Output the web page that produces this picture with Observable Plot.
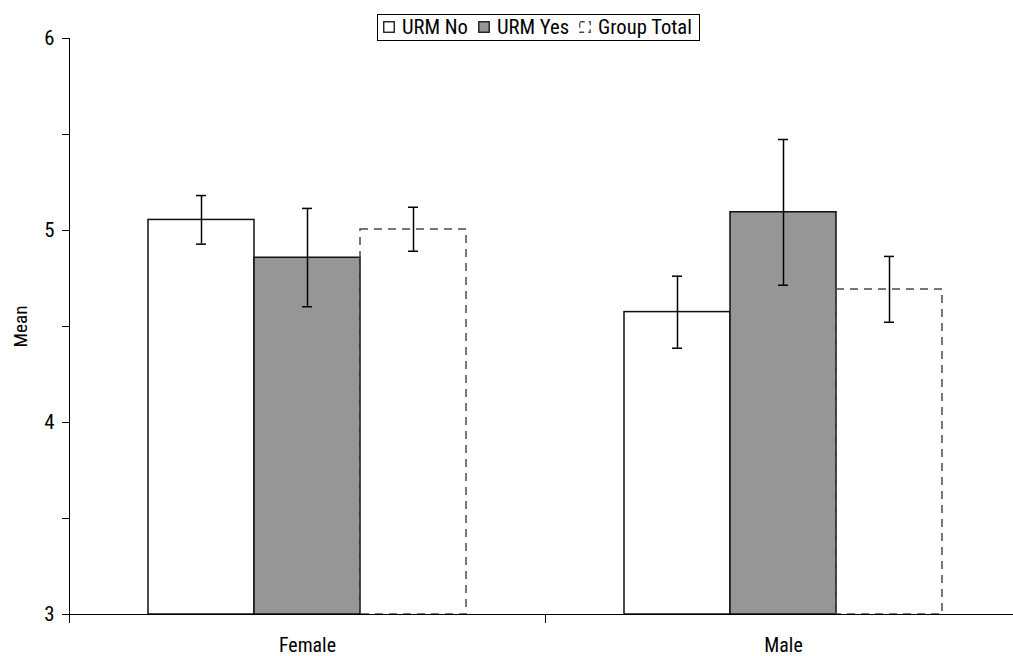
<!DOCTYPE html>
<html>
<head>
<meta charset="utf-8">
<script src="https://cdn.jsdelivr.net/npm/d3@7"></script>
<script src="https://cdn.jsdelivr.net/npm/@observablehq/plot@0.6"></script>
<style>
  html, body { margin: 0; padding: 0; background: #fff; }
  #wrap { position: relative; width: 1013px; height: 656px; overflow: hidden; }
  #legend { position: absolute; left: 377px; top: 14px; height: 25px; padding: 0 7px 0 5px;
            border: 1px solid #000; background: #fff; display: flex; align-items: center;
            color: #000; white-space: nowrap; line-height: 1; }
  #legend .item { display: flex; align-items: center; margin-right: 10px; }
  #legend .item:last-child { margin-right: 0; }
  #legend svg { margin-right: 7px; }
</style>
</head>
<body>
<div id="wrap"><div id="legend"></div></div>
<script>
const groups = ["Female", "Male"];
const series = ["URM No", "URM Yes", "Group Total"];
const meanFemale  = [5.055, 4.858, 5.005];
const meanMale    = [4.575, 5.095, 4.693];
const lowerFemale = [4.929, 4.603, 4.892];
const lowerMale   = [4.387, 4.715, 4.522];
const upperFemale = [5.182, 5.115, 5.121];
const upperMale   = [4.762, 5.474, 4.865];
const yTicks = [3, 3.5, 4, 4.5, 5, 5.5, 6];

const fills   = {"URM No": "#ffffff", "URM Yes": "#969696", "Group Total": "none"};
const strokes = {"URM No": "#111111", "URM Yes": "#111111", "Group Total": "#4a4a4a"};
const dashes  = {"URM No": null, "URM Yes": null, "Group Total": "8,6"};

// pick a narrow font if available, size text to the widths seen in the reference
const canvas = document.createElement("canvas").getContext("2d");
function w(font, size, s) { canvas.font = `${size}px ${font}`; return canvas.measureText(s).width; }
const probe = "Female Male URM Group Total Mean";
const candidates = ["'Liberation Sans Narrow'", "'Arial Narrow'", "'Roboto Condensed'", "'DejaVu Sans Condensed'", "'Liberation Sans'"];
let font = "'Liberation Sans'";
for (const c of candidates) {
  if (Math.abs(w(`${c}, monospace`, 100, probe) - w("monospace", 100, probe)) > 0.5) { font = c; break; }
}
const fam = `${font}, 'Liberation Sans', sans-serif`;
const sizeFor = (s, target) => 100 * target / w(fam, 100, s);
const fsLegend = sizeFor("URM No", 66);
const fsX = sizeFor("Female", 57);
const fsY = fsX * 1.05;
const fsLabel = sizeFor("Mean", 42);

const rows = [];
groups.forEach((g, gi) => {
  const m = gi === 0 ? meanFemale : meanMale;
  const lo = gi === 0 ? lowerFemale : lowerMale;
  const hi = gi === 0 ? upperFemale : upperMale;
  series.forEach((s, si) => rows.push({group: g, series: s, mean: m[si], lo: lo[si], hi: hi[si]}));
});

const W = 1013, H = 656, mT = 38, mB = 42, mL = 69, mR = -8;

const marks = [];
for (const s of series) {
  marks.push(Plot.barY(rows.filter(d => d.series === s), {
    fx: "group", x: "series", y1: 3, y2: "mean",
    fill: fills[s], stroke: strokes[s], strokeWidth: 1.5,
    strokeDasharray: dashes[s]
  }));
}
marks.push(
  Plot.ruleX(rows, {fx: "group", x: "series", y1: "lo", y2: "hi", stroke: "#000", strokeWidth: 1.5}),
  Plot.tickY(rows, {fx: "group", x: "series", y: "lo", stroke: "#000", strokeWidth: 1.5, insetLeft: 48, insetRight: 48}),
  Plot.tickY(rows, {fx: "group", x: "series", y: "hi", stroke: "#000", strokeWidth: 1.5, insetLeft: 48, insetRight: 48}),
  Plot.frame({anchor: "left", facet: "super", stroke: "#000"}),
  Plot.frame({anchor: "bottom", facet: "super", stroke: "#000"}),
  Plot.frame({anchor: "left", stroke: "#000", insetTop: H - mT - mB, insetBottom: -8}),
  Plot.axisY({ticks: yTicks, tickSize: 7, tickPadding: 8, fontSize: fsY,
    tickFormat: d => Number.isInteger(d) ? String(d) : "", label: null}),
  Plot.axisY({ticks: [], label: "Mean", labelAnchor: "center", labelArrow: "none", labelOffset: 56, fontSize: fsLabel}),
  Plot.axisFx({anchor: "bottom", label: null, tickSize: 0, tickPadding: 23, fontSize: fsX})
);

const chart = Plot.plot({
  width: W, height: H,
  marginTop: mT, marginBottom: mB, marginLeft: mL, marginRight: mR,
  style: {fontFamily: fam, color: "#000", background: "#fff"},
  fx: {domain: groups, padding: 0},
  x: {domain: series, paddingInner: 0, paddingOuter: 0.745, axis: null},
  y: {domain: [3, 6]},
  marks
});
document.getElementById("wrap").prepend(chart);

// Legend
const legend = d3.select("#legend").style("font-family", fam).style("font-size", `${fsLegend}px`);
series.forEach(s => {
  const item = legend.append("div").attr("class", "item");
  const sw = item.append("svg").attr("width", 12).attr("height", 12);
  sw.append("rect").attr("x", 0.75).attr("y", 0.75).attr("width", 10.5).attr("height", 10.5)
    .attr("fill", fills[s] === "none" ? "#fff" : fills[s])
    .attr("stroke", strokes[s]).attr("stroke-width", 1.3)
    .attr("stroke-dasharray", dashes[s] ? "5,4" : null);
  item.append("span").text(s);
});
</script>
</body>
</html>
